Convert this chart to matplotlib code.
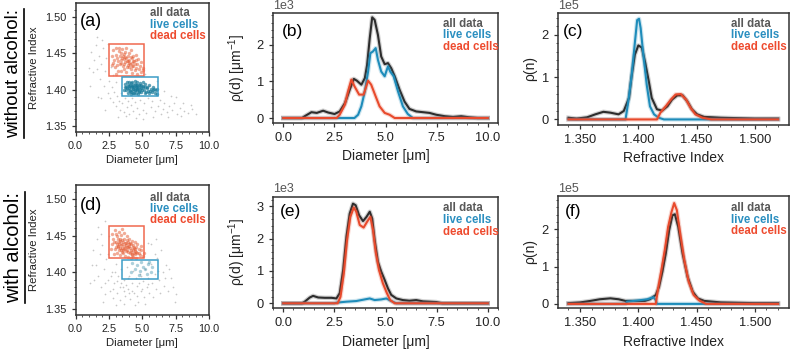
import numpy as np
import matplotlib
matplotlib.use('Agg')
import matplotlib.pyplot as plt
from matplotlib import patheffects as pe
from matplotlib.patches import Rectangle
from matplotlib.lines import Line2D
from matplotlib.ticker import AutoMinorLocator, FormatStrFormatter, MultipleLocator

plt.rcParams['font.family'] = ['Liberation Sans', 'DejaVu Sans']
plt.rcParams['mathtext.fontset'] = 'custom'
plt.rcParams['mathtext.rm'] = 'Liberation Sans'
plt.rcParams['mathtext.it'] = 'Liberation Sans:italic'

# ---- scatter data (diameter um, refractive index) ----
gray_a = np.array([
    (1.18,1.452),(1.42,1.441),(1.51,1.462),(1.63,1.428),(1.74,1.447),(1.81,1.415),(1.93,1.436),(2.04,1.458),
    (2.12,1.405),(2.23,1.425),(2.31,1.444),(2.43,1.396),(2.52,1.412),(2.61,1.389),(2.73,1.403),(2.84,1.383),
    (2.92,1.397),(3.03,1.378),(3.12,1.391),(3.24,1.385),(3.33,1.372),(3.41,1.395),(3.52,1.381),(3.63,1.369),
    (3.72,1.388),(3.84,1.376),(3.91,1.384),(4.02,1.366),(4.13,1.379),(4.21,1.388),(4.34,1.371),(4.42,1.383),
    (4.61,1.375),(4.72,1.366),(4.83,1.386),(5.04,1.372),(5.12,1.381),(5.31,1.368),(5.43,1.389),(5.62,1.376),
    (5.71,1.384),(5.92,1.371),(6.03,1.392),(6.21,1.378),(6.33,1.386),(6.52,1.373),(6.61,1.381),(6.83,1.369),
    (7.02,1.377),(7.24,1.372),(7.41,1.381),(7.63,1.367),(7.82,1.375),(8.13,1.371),(8.42,1.368),(8.71,1.373),
    (9.03,1.366),(1.32,1.424),(1.94,1.388),(2.22,1.372),(2.63,1.431),(3.02,1.411),(5.53,1.405),(6.12,1.412),
    (6.64,1.398),(7.13,1.391),(5.24,1.422),(2.01,1.468),(1.12,1.405),(4.53,1.361),(3.22,1.362),(6.92,1.362),
    (5.83,1.362),(8.04,1.382),(7.52,1.390),(1.62,1.472),(2.42,1.463),(1.02,1.430),(1.71,1.390),(2.82,1.420),
    (6.42,1.366),(7.92,1.364),(8.62,1.379),(5.02,1.360),(3.82,1.363)])
red_a = np.array([
    (3.21,1.440),(3.32,1.446),(3.43,1.437),(3.52,1.443),(3.61,1.449),(3.73,1.438),(3.82,1.444),(3.93,1.434),
    (4.02,1.441),(4.11,1.436),(4.23,1.443),(4.32,1.432),(4.41,1.439),(4.53,1.430),(3.54,1.433),(3.68,1.452),
    (3.94,1.447),(4.13,1.428),(4.34,1.446),(3.27,1.453),(3.12,1.434),(3.04,1.448),(2.92,1.441),(2.83,1.455),
    (3.38,1.426),(3.62,1.429),(3.84,1.431),(4.04,1.451),(4.22,1.437),(4.43,1.427),(4.61,1.436),(4.72,1.428),
    (4.83,1.433),(4.91,1.424),(5.02,1.430),(4.64,1.422),(4.21,1.423),(3.78,1.424),(3.22,1.425),(2.94,1.431),
    (2.72,1.446),(2.81,1.437),(3.01,1.458),(3.24,1.457),(3.52,1.456),(3.81,1.458),(4.12,1.454),(4.52,1.448),
    (4.71,1.442),(3.41,1.441),(3.63,1.436),(3.83,1.440),(4.01,1.437),(4.24,1.432),(3.72,1.445),(3.91,1.440),
    (4.14,1.445),(3.33,1.435),(3.53,1.447),(4.42,1.435),(3.13,1.444),(4.03,1.431),(3.64,1.442),(4.33,1.440),
    (3.42,1.450),(2.73,1.434),(4.92,1.438),(5.08,1.427),(3.02,1.422),(4.51,1.441)])
blue_a = np.array([
    (3.72,1.404),(3.81,1.400),(3.93,1.407),(4.02,1.402),(4.11,1.398),(4.23,1.405),(4.31,1.401),(4.42,1.408),
    (4.53,1.403),(4.61,1.399),(4.72,1.406),(4.83,1.401),(4.91,1.397),(5.02,1.404),(5.13,1.400),(5.21,1.396),
    (5.32,1.402),(5.43,1.398),(5.51,1.395),(5.62,1.401),(5.73,1.397),(5.81,1.400),(5.92,1.396),(6.03,1.399),
    (6.11,1.394),(4.04,1.410),(4.22,1.411),(4.43,1.412),(4.62,1.410),(4.81,1.409),(5.03,1.410),(3.92,1.396),
    (4.13,1.394),(4.33,1.395),(4.52,1.396),(4.71,1.394),(3.83,1.411),(3.64,1.399),(4.18,1.403),(4.44,1.400),
    (4.64,1.404),(4.27,1.406),(4.54,1.407),(4.08,1.406),(3.98,1.405),(4.84,1.405),(4.98,1.400),(4.93,1.402),
    (4.68,1.402),(4.24,1.399),(4.37,1.404),(3.87,1.402),(4.58,1.401),(5.18,1.403),(5.38,1.404),(5.58,1.398),
    (5.24,1.408),(5.48,1.406),(5.78,1.404),(5.88,1.401),(6.08,1.401),(5.28,1.397),(4.03,1.399),(3.74,1.408),
    (4.14,1.409),(4.29,1.403),(4.47,1.400),(4.74,1.398),(4.88,1.406),(5.08,1.405),(4.19,1.397),(4.39,1.396),
    (3.79,1.404),(4.57,1.407),(4.78,1.397)])
gray_d = np.array([
    (1.31,1.430),(1.52,1.410),(1.63,1.445),(1.72,1.395),(1.83,1.425),(1.91,1.380),(2.02,1.437),(2.13,1.405),
    (2.21,1.370),(2.32,1.418),(2.43,1.390),(2.51,1.450),(2.62,1.375),(2.71,1.400),(2.83,1.365),(2.92,1.385),
    (3.03,1.412),(3.11,1.372),(3.22,1.395),(3.31,1.362),(3.42,1.405),(3.53,1.380),(3.61,1.390),(3.72,1.368),
    (3.83,1.408),(3.91,1.377),(4.02,1.395),(4.11,1.364),(4.23,1.385),(4.32,1.402),(4.41,1.372),(4.53,1.392),
    (4.62,1.381),(4.71,1.360),(4.83,1.398),(4.92,1.375),(5.03,1.388),(5.12,1.367),(5.21,1.405),(5.33,1.380),
    (5.42,1.393),(5.51,1.372),(5.63,1.412),(5.72,1.386),(5.81,1.366),(5.93,1.398),(6.02,1.378),(6.13,1.420),
    (6.22,1.390),(6.31,1.372),(6.52,1.400),(6.63,1.382),(6.81,1.410),(6.92,1.375),(7.13,1.392),(7.31,1.380),
    (7.52,1.370),(1.42,1.390),(2.03,1.360),(2.42,1.425),(3.02,1.355),(3.63,1.357),(4.42,1.355),(5.22,1.357),
    (5.92,1.425),(6.42,1.430),(5.62,1.438),(5.43,1.440),(1.93,1.452),(1.21,1.410),(2.93,1.400),(3.43,1.385),
    (3.93,1.392),(4.22,1.375),(4.72,1.385),(5.01,1.378),(3.12,1.388),(2.63,1.395),(2.23,1.385),(3.62,1.375),
    (4.93,1.395),(5.41,1.384),(6.21,1.402),(6.72,1.393),(7.02,1.405),(3.32,1.380),(4.63,1.368),(4.03,1.372),
    (3.82,1.383),(2.82,1.378),(1.72,1.462),(2.22,1.470),(6.02,1.445),(1.11,1.385),(7.42,1.360)])
red_d = np.array([
    (2.72,1.438),(2.81,1.446),(2.93,1.432),(3.02,1.441),(3.11,1.449),(3.22,1.436),(3.31,1.443),(3.42,1.430),
    (3.51,1.438),(3.62,1.445),(3.71,1.433),(3.82,1.440),(3.91,1.428),(4.02,1.436),(4.13,1.431),(4.22,1.424),
    (4.31,1.437),(4.42,1.429),(4.53,1.434),(4.61,1.426),(4.72,1.432),(4.83,1.424),(4.94,1.430),(5.03,1.422),
    (3.04,1.452),(3.23,1.455),(3.44,1.451),(3.63,1.453),(3.84,1.449),(4.03,1.446),(4.24,1.443),(4.43,1.441),
    (2.92,1.425),(3.13,1.427),(3.33,1.424),(3.53,1.426),(3.73,1.423),(3.93,1.421),(4.12,1.419),(4.33,1.421),
    (4.52,1.420),(3.17,1.434),(3.27,1.439),(3.37,1.446),(3.47,1.433),(3.57,1.441),(3.67,1.436),(3.77,1.429),
    (3.87,1.435),(3.97,1.442),(4.07,1.427),(4.17,1.438),(4.27,1.430),(4.37,1.433),(4.47,1.425),(3.08,1.438),
    (3.18,1.445),(3.28,1.431),(3.38,1.437),(3.48,1.444),(3.58,1.430),(3.68,1.440),(3.78,1.437),(3.88,1.431),
    (3.98,1.438),(4.08,1.433),(4.18,1.428),(4.28,1.435),(4.38,1.426),(2.66,1.432),(2.77,1.452),(2.98,1.458),
    (3.52,1.459),(4.64,1.438),(4.88,1.436),(5.12,1.427),(2.86,1.441),(3.02,1.434),(3.24,1.441),(3.46,1.428),
    (3.66,1.432),(3.86,1.444),(4.06,1.440),(4.26,1.425),(4.46,1.432),(4.56,1.428),(4.76,1.427),(3.36,1.433),
    (3.96,1.434)])
blue_d = np.array([
    (4.42,1.405),(4.63,1.410),(4.85,1.402),(5.04,1.408),(5.22,1.404),(5.43,1.411),(5.62,1.401),(4.21,1.413),
    (4.94,1.414),(5.32,1.398),(4.72,1.397),(5.73,1.407),(4.12,1.401),(5.51,1.414)])

# gating boxes: (d0, n0, width, height)
dead_box = (2.5, 1.419, 2.65, 0.0435)
live_box = (3.5, 1.391, 2.65, 0.026)

# ---- diameter densities, units of 1e3 per um ----
b_all_x = [0.0, 0.92, 1.05, 1.38, 1.64, 1.95, 2.2, 2.51, 2.76, 3.02, 3.25, 3.45, 3.6, 3.82, 3.99, 4.1, 4.23, 4.35,
           4.47, 4.63, 4.79, 4.96, 5.12, 5.28, 5.45, 5.69, 5.93, 6.17, 6.5, 6.83, 7.15, 7.48, 7.9, 8.3, 8.7, 9.1,
           9.5, 10.0]
b_all_y = [0.0, 0.0, 0.05, 0.16, 0.14, 0.2, 0.15, 0.11, 0.18, 0.41, 0.77, 1.07, 1.02, 0.91, 1.09, 1.45, 2.18, 2.75,
           2.68, 2.27, 1.68, 1.47, 1.5, 1.36, 1.14, 0.77, 0.45, 0.25, 0.18, 0.16, 0.14, 0.09, 0.05, 0.03, 0.05, 0.02,
           0.0, 0.0]
b_live_x = [0.0, 3.48, 3.66, 3.82, 3.99, 4.15, 4.26, 4.39, 4.52, 4.63, 4.79, 4.96, 5.12, 5.23, 5.4, 5.61, 5.85,
            6.09, 6.34, 10.0]
b_live_y = [0.0, 0.0, 0.09, 0.32, 0.73, 1.27, 1.77, 1.82, 1.91, 1.59, 1.27, 1.14, 1.41, 1.27, 1.14, 0.73, 0.32,
            0.11, 0.0, 0.0]
b_dead_x = [0.0, 2.61, 2.76, 3.01, 3.17, 3.33, 3.49, 3.71, 3.93, 4.15, 4.3, 4.52, 4.71, 4.96, 5.2, 5.45, 10.0]
b_dead_y = [0.0, 0.0, 0.09, 0.36, 0.73, 1.05, 0.86, 0.64, 0.64, 1.02, 0.91, 0.59, 0.32, 0.14, 0.09, 0.0, 0.0]

e_all_x = [0.0, 0.92, 1.05, 1.3, 1.46, 1.71, 2.03, 2.36, 2.6, 2.76, 2.93, 3.09, 3.25, 3.41, 3.54, 3.71, 3.9, 4.07,
           4.23, 4.35, 4.47, 4.63, 4.79, 4.96, 5.12, 5.28, 5.53, 5.85, 6.17, 6.5, 6.83, 7.48, 7.78, 10.0]
e_all_y = [0.0, 0.0, 0.05, 0.18, 0.23, 0.18, 0.17, 0.17, 0.15, 0.31, 1.03, 2.06, 2.77, 3.08, 3.03, 2.72, 2.54,
           2.67, 2.83, 2.62, 1.95, 1.28, 0.98, 0.72, 0.46, 0.26, 0.15, 0.1, 0.08, 0.1, 0.06, 0.04, 0.0, 0.0]
e_live_x = [0.0, 2.5, 2.6, 3.09, 3.57, 3.98, 4.23, 4.47, 4.79, 5.04, 5.28, 5.53, 10.0]
e_live_y = [0.0, 0.0, 0.02, 0.05, 0.07, 0.12, 0.15, 0.1, 0.12, 0.15, 0.07, 0.0, 0.0]
e_dead_x = [0.0, 2.66, 2.8, 2.96, 3.12, 3.28, 3.45, 3.57, 3.74, 3.93, 4.1, 4.26, 4.39, 4.52, 4.68, 4.87, 5.07,
            5.23, 5.45, 10.0]
e_dead_y = [0.0, 0.0, 0.2, 0.92, 1.95, 2.67, 2.96, 2.83, 2.42, 2.34, 2.52, 2.67, 2.26, 1.59, 1.03, 0.62, 0.31,
            0.1, 0.0, 0.0]

# ---- refractive index densities, units of 1e5 ----
c_all_x = [1.34, 1.347, 1.356, 1.363, 1.370, 1.376, 1.383, 1.3875, 1.392, 1.394, 1.397, 1.400, 1.403, 1.406,
           1.409, 1.4115, 1.416, 1.4205, 1.425, 1.429, 1.4335, 1.438, 1.442, 1.446, 1.4505, 1.4565, 1.471, 1.50,
           1.52]
c_all_y = [0.04, 0.02, 0.05, 0.12, 0.18, 0.16, 0.12, 0.2, 0.51, 0.98, 1.53, 1.75, 1.7, 1.33, 0.9, 0.51, 0.24,
           0.21, 0.31, 0.47, 0.57, 0.57, 0.43, 0.24, 0.12, 0.06, 0.04, 0.02, 0.02]
c_live_x = [1.34, 1.389, 1.391, 1.394, 1.396, 1.398, 1.399, 1.4006, 1.402, 1.4043, 1.4072, 1.41, 1.4135, 1.4175,
            1.422, 1.52]
c_live_y = [0.0, 0.0, 0.35, 0.98, 1.53, 2.08, 2.35, 2.38, 2.16, 1.53, 0.82, 0.31, 0.12, 0.04, 0.0, 0.0]
c_dead_x = [1.34, 1.416, 1.419, 1.4235, 1.428, 1.432, 1.4365, 1.441, 1.445, 1.449, 1.455, 1.4625, 1.52]
c_dead_y = [0.0, 0.0, 0.16, 0.31, 0.47, 0.59, 0.6, 0.47, 0.27, 0.12, 0.04, 0.0, 0.0]

f_all_x = [1.34, 1.35, 1.3587, 1.367, 1.376, 1.383, 1.389, 1.3947, 1.40, 1.4056, 1.41, 1.415, 1.4178, 1.4207,
           1.4236, 1.4265, 1.4293, 1.4314, 1.4343, 1.438, 1.4423, 1.4467, 1.451, 1.4567, 1.471, 1.50, 1.52]
f_all_y = [0.02, 0.04, 0.08, 0.125, 0.15, 0.125, 0.08, 0.08, 0.08, 0.08, 0.125, 0.24, 0.46, 0.87, 1.36, 1.98,
           2.38, 2.41, 2.07, 1.36, 0.73, 0.33, 0.15, 0.08, 0.04, 0.02, 0.02]
f_live_x = [1.34, 1.389, 1.3904, 1.399, 1.4077, 1.413, 1.415, 1.416, 1.52]
f_live_y = [0.0, 0.0, 0.06, 0.09, 0.125, 0.18, 0.1, 0.0, 0.0]
f_dead_x = [1.34, 1.415, 1.417, 1.4198, 1.4227, 1.4256, 1.4285, 1.4308, 1.4331, 1.436, 1.4395, 1.4432, 1.4475,
            1.4524, 1.4582, 1.52]
f_dead_y = [0.0, 0.0, 0.42, 0.91, 1.45, 2.07, 2.47, 2.71, 2.52, 1.89, 1.18, 0.6, 0.24, 0.09, 0.0, 0.0]

legend_names = ['all data', 'live cells', 'dead cells']
legend_colors = ['#585858', '#2b8fc0', '#ee4b2f']
c_all, c_live, c_dead = '#2d2d2d', '#1e8cba', '#e84a2c'

W, H = 792, 351
fig = plt.figure(figsize=(W / 100, H / 100), dpi=100)


def box(l, t, r, b):
    return [l / W, 1 - b / H, (r - l) / W, (b - t) / H]


def style(ax, fs):
    for s in ax.spines.values():
        s.set_color('#333333')
        s.set_linewidth(1.1)
    ax.tick_params(which='major', direction='out', length=3, width=0.9, labelsize=fs,
                   colors='#333333', labelcolor='#222222')
    ax.tick_params(which='minor', direction='out', length=1.5, width=0.7, colors='#555555')
    ax.xaxis.set_minor_locator(AutoMinorLocator())
    ax.yaxis.set_minor_locator(AutoMinorLocator())


def legend(ax, x, y0, dy):
    for i, (name, col) in enumerate(zip(legend_names, legend_colors)):
        ax.text(x, y0 - i * dy, name, color=col, fontsize=8.3, fontweight='bold',
                transform=ax.transAxes, ha='left', va='center')


def glow(col):
    return [pe.Stroke(linewidth=3.2, foreground=col, alpha=0.22), pe.Normal()]


def scatter_panel(pos, gray, red, blue, blue_alpha, tag, lab_y):
    ax = fig.add_axes(box(*pos))
    ax.scatter(gray[:, 0], gray[:, 1], s=1.5, color='#9a9a9a', alpha=0.55, linewidths=0)
    ax.scatter(red[:, 0], red[:, 1], s=6, color='#e4582f', alpha=0.5, linewidths=0)
    ax.scatter(blue[:, 0], blue[:, 1], s=6, color='#177a9a', alpha=blue_alpha, linewidths=0)
    ax.add_patch(Rectangle(dead_box[:2], dead_box[2], dead_box[3], fill=False, ec='#f0684e', lw=1.1))
    ax.add_patch(Rectangle(live_box[:2], live_box[2], live_box[3], fill=False, ec='#3c9dc6', lw=1.1))
    ax.set_xlim(0, 10)
    ax.set_ylim(1.342, 1.519)
    ax.xaxis.set_major_locator(MultipleLocator(2.5))
    ax.yaxis.set_major_locator(MultipleLocator(0.05))
    ax.yaxis.set_major_formatter(FormatStrFormatter('%.2f'))
    style(ax, 7.8)
    ax.set_xlabel('Diameter [μm]', fontsize=8.2, labelpad=3, color='#222222')
    ax.set_ylabel('Refractive Index', fontsize=8.2, labelpad=4.5, color='#222222')
    ax.text(0.034, lab_y, tag, transform=ax.transAxes, fontsize=13, va='center', ha='left')
    return ax


def density_panel(pos, curves, xlim, ylim, step, xstep, xfmt, ylab, pad, tag, tag_xy, leg):
    ax = fig.add_axes(box(*pos))
    for xs, ys, col in curves:
        ax.plot(xs, np.array(ys) * step, color=col, lw=1.5, path_effects=glow(col), solid_joinstyle='round')
    ax.set_xlim(*xlim)
    ax.set_ylim(*ylim)
    ax.xaxis.set_major_locator(MultipleLocator(xstep))
    if xfmt:
        ax.xaxis.set_major_formatter(FormatStrFormatter(xfmt))
    ax.yaxis.set_major_locator(MultipleLocator(step))
    ax.ticklabel_format(axis='y', style='sci', scilimits=(0, 0))
    style(ax, 9.3)
    ax.yaxis.get_offset_text().set_fontsize(9)
    ax.set_ylabel(ylab, fontsize=10, labelpad=pad, color='#222222')
    ax.text(tag_xy[0], tag_xy[1], tag, transform=ax.transAxes, fontsize=12.5, va='center', ha='left')
    legend(ax, *leg)
    return ax


ax_a = scatter_panel((75.5, 3.3, 209, 131.7), gray_a, red_a, blue_a, 0.7, '(a)', 0.857)
legend(ax_a, 0.558, 0.922, 0.088)
ax_d = scatter_panel((75.5, 185, 209, 315), gray_d, red_d, blue_d, 0.35, '(d)', 0.846)
legend(ax_d, 0.558, 0.902, 0.086)

ax_b = density_panel((273, 13.3, 498, 122.8),
                     [(b_all_x, b_all_y, c_all), (b_live_x, b_live_y, c_live), (b_dead_x, b_dead_y, c_dead)],
                     (-0.5, 10.5), (-130, 2860), 1e3, 2.5, None, 'ρ(d) [μm$^{-1}$]', 6.0,
                     '(b)', (0.039, 0.83), (0.756, 0.902, 0.104))
ax_b.set_xlabel('Diameter [μm]', fontsize=10, color='#222222')
ax_c = density_panel((558, 13.3, 788.5, 124.5),
                     [(c_all_x, c_all_y, c_all), (c_live_x, c_live_y, c_live), (c_dead_x, c_dead_y, c_dead)],
                     (1.331, 1.529), (-0.12e5, 2.51e5), 1e5, 0.05, '%.3f', 'ρ(n)', 3,
                     '(c)', (0.022, 0.84), (0.749, 0.904, 0.103))
ax_c.set_xlabel('Refractive Index', fontsize=10, color='#222222')
ax_e = density_panel((273, 196.5, 498, 308),
                     [(e_all_x, e_all_y, c_all), (e_live_x, e_live_y, c_live), (e_dead_x, e_dead_y, c_dead)],
                     (-0.5, 10.5), (-145, 3300), 1e3, 2.5, None, 'ρ(d) [μm$^{-1}$]', 6.0,
                     '(e)', (0.031, 0.864), (0.756, 0.894, 0.105))
ax_e.set_xlabel('Diameter [μm]', fontsize=10, color='#222222')
ax_f = density_panel((558, 196, 788.5, 308),
                     [(f_all_x, f_all_y, c_all), (f_live_x, f_live_y, c_live), (f_dead_x, f_dead_y, c_dead)],
                     (1.331, 1.529), (-0.11e5, 2.9e5), 1e5, 0.05, '%.3f', 'ρ(n)', 3,
                     '(f)', (0.03, 0.864), (0.749, 0.894, 0.105))
ax_f.set_xlabel('Refractive Index', fontsize=10, color='#222222')

# row titles, underlined
rows = [fig.text(14 / W, 1 - 73.5 / H, 'without alcohol:', rotation=90, ha='center', va='center', fontsize=13.5),
        fig.text(14 / W, 1 - 247.5 / H, 'with alcohol:', rotation=90, ha='center', va='center', fontsize=14.5)]
fig.canvas.draw()
renderer = fig.canvas.get_renderer()
for t in rows:
    bb = t.get_window_extent(renderer)
    x = (bb.x1 + 1.5) / W
    fig.add_artist(Line2D([x, x], [bb.y0 / H, bb.y1 / H], transform=fig.transFigure, color='black', lw=1.2))

fig.savefig('out.png', dpi=100)
